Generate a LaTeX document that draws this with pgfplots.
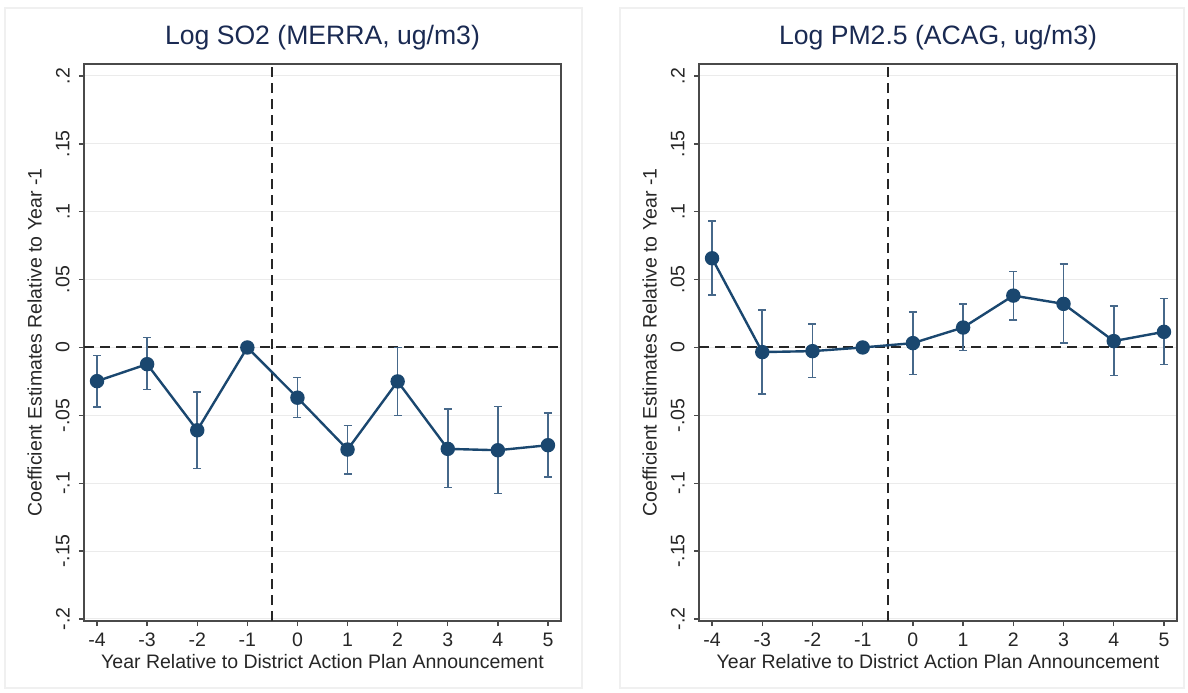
\documentclass[border=0pt]{standalone}
\usepackage{pgfplots}
\usepackage{pgfplotstable}
\usepackage{fontspec}
\setmainfont{Liberation Sans}
\pgfplotsset{compat=1.18}

\definecolor{navy}{HTML}{1A476F}
\definecolor{cibar}{HTML}{46688A}
\definecolor{titlec}{HTML}{1A2A52}
\definecolor{framec}{HTML}{4A4A4A}

% year, estimate, upper, lower
\pgfplotstableread{
x y hi lo
-4 -0.0248 -0.0059 -0.0439
-3 -0.0123 0.0074 -0.0309
-2 -0.0610 -0.0326 -0.0892
-1 0.0000 0.0000 0.0000
0 -0.0370 -0.0221 -0.0517
1 -0.0752 -0.0574 -0.0931
2 -0.0250 0.0000 -0.0502
3 -0.0747 -0.0453 -0.1032
4 -0.0757 -0.0436 -0.1076
5 -0.0720 -0.0483 -0.0956
}\sotwo

\pgfplotstableread{
x y hi lo
-4 0.0657 0.0931 0.0385
-3 -0.0034 0.0277 -0.0343
-2 -0.0027 0.0171 -0.0221
-1 0.0000 0.0000 0.0000
0 0.0032 0.0262 -0.0199
1 0.0147 0.0321 -0.0022
2 0.0382 0.0561 0.0204
3 0.0321 0.0613 0.0032
4 0.0047 0.0306 -0.0206
5 0.0115 0.0362 -0.0125
}\pmtwofive

\tikzset{refline/.style={black!85, line width=1pt, dash pattern=on 5pt off 3pt}}

\pgfplotsset{
  panel/.style={
    scale only axis,
    anchor=south west,
    height=278.5pt,
    xmin=-4.26, xmax=5.26,
    ymin=-0.2015, ymax=0.2088,
    xtick={-4,-3,-2,-1,0,1,2,3,4,5},
    ytick={-0.2,-0.15,-0.1,-0.05,0,0.05,0.1,0.15,0.2},
    yticklabels={-.2,-.15,-.1,-.05,0,.05,.1,.15,.2},
    xtick pos=bottom, ytick pos=left,
    tick align=outside,
    major tick length=2.5pt,
    tick style={framec, line width=0.7pt},
    axis line style={framec, line width=1pt},
    ymajorgrids,
    grid style={black!8, line width=0.5pt},
    /pgf/number format/assume math mode=true,
    tick label style={font=\fontsize{9.75}{11}\selectfont, text=black!85},
    yticklabel style={rotate=90, anchor=south, inner sep=4.5pt},
    label style={font=\fontsize{9.75}{11}\selectfont, text=black!85},
    xlabel={Year Relative to District Action Plan Announcement},
    ylabel={Coefficient Estimates Relative to Year -1},
    xlabel style={yshift=3pt},
    ylabel style={yshift=-1pt},
    title style={at={(0.5,1)}, anchor=base, yshift=4pt,
      font=\fontsize{13.3}{15}\selectfont, text=titlec},
    clip=false,
  },
  cis/.style={forget plot, only marks, mark=none,
    error bars/.cd, y dir=both, y explicit,
    error bar style={cibar, line width=0.8pt},
    error mark options={cibar, rotate=90, mark size=2pt, line width=0.8pt}},
  est/.style={navy, line width=1.2pt, mark=*, mark size=3pt,
    mark options={fill=navy, draw=navy}},
}

\begin{document}
\begin{tikzpicture}
\useasboundingbox (0,0) rectangle (594pt,-346pt);
\draw[black!6, line width=0.8pt] (2.5pt,-4pt) rectangle (291pt,-344pt);
\draw[black!6, line width=0.8pt] (310pt,-4pt) rectangle (592pt,-344pt);

\begin{axis}[panel, at={(42pt,-310.5pt)}, width=238.5pt,
    title={Log SO2 (MERRA, ug/m3)}]
  \draw[refline] (axis cs:-4.26,0) -- (axis cs:5.26,0);
  \draw[refline] (axis cs:-0.5,-0.2015) -- (axis cs:-0.5,0.2088);
  \addplot[cis] table[x=x, y=y,
    y error plus expr=\thisrow{hi}-\thisrow{y},
    y error minus expr=\thisrow{y}-\thisrow{lo}] {\sotwo};
  \addplot[est] table[x=x, y=y] {\sotwo};
\end{axis}

\begin{axis}[panel, at={(349.5pt,-310.5pt)}, width=239pt,
    title={Log PM2.5 (ACAG, ug/m3)}]
  \draw[refline] (axis cs:-4.26,0) -- (axis cs:5.26,0);
  \draw[refline] (axis cs:-0.5,-0.2015) -- (axis cs:-0.5,0.2088);
  \addplot[cis] table[x=x, y=y,
    y error plus expr=\thisrow{hi}-\thisrow{y},
    y error minus expr=\thisrow{y}-\thisrow{lo}] {\pmtwofive};
  \addplot[est] table[x=x, y=y] {\pmtwofive};
\end{axis}
\end{tikzpicture}
\end{document}
